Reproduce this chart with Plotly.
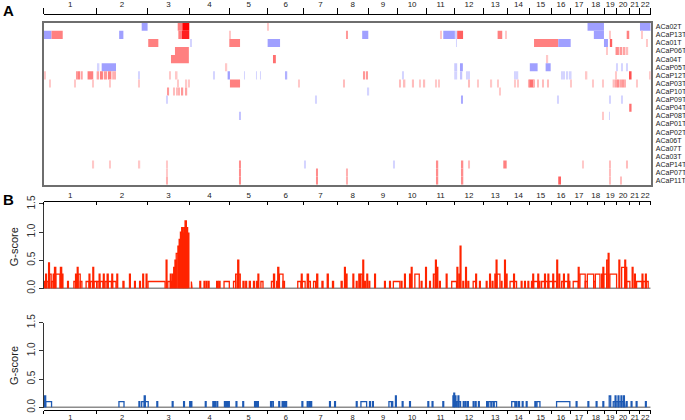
import plotly.graph_objects as go

# ---------------- data ----------------
chrom_names = [str(i) for i in range(1, 23)]
chrom_lengths = [249.25, 243.2, 198.0, 191.15, 180.9, 171.1, 159.1, 146.4, 141.2, 135.5,
                 135.0, 133.85, 115.2, 107.35, 102.5, 90.35, 81.2, 78.1, 59.1, 63.0, 48.1, 51.3]

samples = ["ACa02T", "ACaP13T", "ACa01T", "ACaP06T", "ACa04T", "ACaP05T", "ACaP12T",
           "ACaP03T", "ACaP10T", "ACaP09T", "ACaP04T", "ACaP08T", "ACaP01T", "ACaP02T",
           "ACa06T", "ACa07T", "ACa03T", "ACaP14T", "ACaP07T", "ACaP11T"]

# copy-number segments per sample: (start Mb, end Mb, log-ratio level) in genome-wide coordinates
ACa02T = [(464, 492, -0.6), (635, 657, 0.6), (657, 690, 1.0), (1062, 1067, 0.3),
          (2581, 2659, -0.6), (2830, 2881, -0.6)]
ACaP13T = [(0, 36, -0.6), (36, 89, 0.6), (357, 377, -0.6), (638, 655, 0.6), (655, 690, 0.9),
           (883, 886, 0.3), (1434, 1440, 0.5), (1511, 1540, -0.6), (1885, 1890, 0.3),
           (1896, 1951, -0.6), (1956, 1960, -0.3), (1962, 1990, 0.7), (2154, 2176, 0.6),
           (2193, 2198, 0.3), (2611, 2659, -0.6), (2683, 2688, 0.3), (2767, 2779, 0.6),
           (2838, 2842, 0.3)]
ACa01T = [(495, 543, 0.6), (696, 701, -0.3), (880, 931, 0.6), (1062, 1121, -0.6),
          (1957, 1961, -0.3), (2327, 2442, 0.6), (2442, 2501, -0.6), (2659, 2678, -0.6),
          (2687, 2698, 0.7), (2862, 2866, 0.3)]
ACaP06T = [(622, 688, 0.6), (2670, 2675, 0.3), (2714, 2730, 0.55), (2733, 2745, 0.5),
           (2748, 2760, 0.45), (2762, 2774, 0.35)]
ACa04T = [(603, 688, 0.6), (1092, 1101, 0.65), (2387, 2394, 0.3)]
ACaP05T = [(255, 263, -0.3), (274, 342, -0.6), (864, 870, 0.3), (1948, 1962, -0.35),
           (1980, 1989, -0.6), (2307, 2344, -0.6), (2382, 2406, -0.6), (2717, 2721, -0.3),
           (2741, 2745, -0.3), (2766, 2770, -0.3)]
ACaP12T = [(0, 6, 0.3), (152, 160, 0.5), (163, 170, 0.6), (174, 184, 0.45), (207, 234, 0.6),
           (250, 262, 0.45), (266, 280, 0.6), (284, 300, 0.5), (304, 320, 0.6), (324, 342, 0.4),
           (451, 455, -0.3), (595, 600, 0.3), (625, 634, 0.3), (804, 808, -0.3), (872, 883, -0.6),
           (950, 954, -0.3), (1007, 1011, -0.3), (1026, 1030, -0.3), (1149, 1155, -0.5),
           (1519, 1525, 0.5), (1530, 1537, 0.5), (1703, 1709, -0.3), (1948, 1962, -0.3),
           (1980, 1986, -0.4), (2004, 2010, -0.3), (2014, 2020, -0.3), (2232, 2238, -0.3),
           (2244, 2252, -0.3), (2455, 2462, -0.3), (2467, 2474, -0.3), (2480, 2487, -0.3),
           (2492, 2505, -0.3), (2573, 2580, 0.3), (2714, 2718, 0.3), (2778, 2790, 0.75),
           (2876, 2881, 0.3)]
ACaP03T = [(25, 33, 0.3), (144, 152, 0.3), (231, 237, 0.3), (309, 315, 0.3), (451, 456, 0.3),
           (633, 640, 0.3), (674, 680, 0.3), (685, 692, 0.3), (883, 931, 0.6), (1207, 1213, 0.3),
           (1420, 1426, 0.35), (1686, 1692, 0.35), (1708, 1716, 0.35), (1747, 1757, 0.35),
           (1781, 1787, 0.3), (1804, 1810, 0.35), (1860, 1866, 0.3), (1874, 1880, 0.3),
           (2017, 2023, 0.35), (2057, 2064, 0.3), (2121, 2128, 0.3), (2154, 2160, 0.3),
           (2232, 2238, 0.3), (2247, 2253, 0.3), (2299, 2305, 0.4), (2305, 2325, 0.65),
           (2325, 2331, 0.4), (2344, 2350, 0.35), (2366, 2373, 0.35), (2390, 2397, 0.35),
           (2501, 2507, 0.3), (2605, 2611, 0.3), (2651, 2657, 0.3), (2700, 2711, 0.35),
           (2714, 2722, 0.45), (2725, 2733, 0.55), (2736, 2745, 0.45), (2748, 2755, 0.5),
           (2757, 2762, 0.4), (2814, 2820, 0.3)]
ACaP10T = [(587, 594, 0.5), (614, 620, 0.35), (628, 633, 0.35), (638, 644, 0.4), (654, 661, 0.5),
           (673, 680, 0.45), (1538, 1544, -0.3), (2163, 2168, 0.3)]
ACaP09T = [(582, 588, -0.3), (1290, 1296, -0.3), (1983, 1989, -0.55), (2439, 2445, -0.3),
           (2683, 2689, -0.3), (2743, 2749, -0.3)]
ACaP04T = [(2779, 2790, 0.65)]
ACaP08T = [(926, 934, -0.4), (2651, 2657, 0.3), (2683, 2687, -0.3)]
ACaP01T = []
ACaP02T = []
ACa06T = []
ACa07T = []
ACa03T = []
ACaP14T = [(231, 238, 0.3), (309, 316, 0.3), (451, 457, 0.3), (582, 588, 0.3), (926, 934, 0.55),
           (1235, 1240, -0.3), (1659, 1665, -0.3), (1864, 1872, 0.55), (1983, 1991, 0.55),
           (2017, 2023, 0.35), (2181, 2197, 0.6), (2556, 2563, 0.3), (2683, 2688, 0.35),
           (2767, 2773, 0.35)]
ACaP07T = [(582, 588, 0.3), (926, 934, 0.55), (1292, 1300, 0.55), (1434, 1440, 0.4),
           (1864, 1872, 0.55), (1983, 1991, 0.55), (2683, 2688, 0.35)]
ACaP11T = [(582, 588, 0.4), (926, 934, 0.55), (1292, 1300, 0.55), (1434, 1440, 0.4),
           (1864, 1872, 0.55), (1983, 1991, 0.55), (2442, 2455, 0.7), (2683, 2688, 0.35),
           (2738, 2744, 0.35)]

sample_segments = [ACa02T, ACaP13T, ACa01T, ACaP06T, ACa04T, ACaP05T, ACaP12T, ACaP03T,
                   ACaP10T, ACaP09T, ACaP04T, ACaP08T, ACaP01T, ACaP02T, ACa06T, ACa07T,
                   ACa03T, ACaP14T, ACaP07T, ACaP11T]

# G-score for gains: (start Mb, end Mb, G-score)
gain_gscore = [
    (2, 8, 0.12), (8, 12, 0.25), (12, 20, 0.12), (22, 26, 0.45), (26, 34, 0.25), (36, 44, 0.12),
    (44, 50, 0.25), (50, 56, 0.37), (56, 76, 0.25), (78, 84, 0.37), (84, 90, 0.25), (112, 116, 0.12),
    (142, 150, 0.12), (150, 156, 0.25), (158, 162, 0.37), (162, 172, 0.25), (172, 180, 0.12),
    (200, 214, 0.12), (214, 218, 0.25), (220, 230, 0.12), (232, 236, 0.37), (238, 250, 0.12),
    (252, 262, 0.12), (262, 266, 0.25), (266, 280, 0.12), (282, 286, 0.25), (290, 300, 0.12),
    (300, 305, 0.25), (305, 320, 0.12), (322, 326, 0.25), (326, 342, 0.12), (346, 350, 0.25),
    (375, 380, 0.12), (406, 410, 0.25), (430, 434, 0.12), (454, 458, 0.12), (469, 473, 0.25),
    (485, 489, 0.25),
    (494, 575, 0.12), (580, 584, 0.5), (588, 600, 0.12), (600, 604, 0.25), (604, 610, 0.12),
    (610, 616, 0.25), (616, 622, 0.37), (622, 628, 0.5), (628, 636, 0.62), (636, 642, 0.75),
    (642, 648, 0.87), (648, 654, 1.0), (654, 660, 1.08), (660, 664, 0.98), (664, 670, 1.08),
    (670, 676, 1.2), (676, 682, 1.08), (682, 688, 0.98),
    (700, 703, 0.12), (740, 744, 0.12), (760, 764, 0.12), (770, 774, 0.12), (780, 784, 0.12),
    (820, 826, 0.12), (830, 836, 0.12), (855, 880, 0.12),
    (900, 910, 0.12), (910, 918, 0.25), (920, 925, 0.5), (925, 932, 0.25), (945, 950, 0.12),
    (958, 962, 0.12), (975, 980, 0.12), (995, 1000, 0.12), (1010, 1014, 0.12), (1016, 1020, 0.25),
    (1030, 1040, 0.12),
    (1080, 1090, 0.12), (1090, 1095, 0.25), (1105, 1110, 0.12), (1110, 1115, 0.37),
    (1118, 1135, 0.25), (1135, 1142, 0.12),
    (1205, 1220, 0.12), (1222, 1226, 0.25), (1226, 1240, 0.12), (1250, 1256, 0.25),
    (1256, 1265, 0.12), (1280, 1290, 0.12), (1295, 1300, 0.25), (1320, 1325, 0.12),
    (1345, 1350, 0.25), (1370, 1375, 0.12),
    (1411, 1416, 0.12), (1427, 1431, 0.37), (1435, 1439, 0.25), (1467, 1471, 0.25),
    (1483, 1487, 0.12), (1495, 1499, 0.25), (1503, 1511, 0.25), (1514, 1518, 0.5),
    (1522, 1526, 0.12), (1533, 1537, 0.25), (1543, 1547, 0.12), (1570, 1574, 0.25),
    (1617, 1621, 0.12), (1641, 1645, 0.12), (1659, 1690, 0.12), (1696, 1700, 0.12),
    (1712, 1716, 0.25), (1736, 1740, 0.25), (1744, 1748, 0.37), (1761, 1782, 0.25),
    (1791, 1795, 0.12), (1812, 1816, 0.37), (1831, 1835, 0.12), (1849, 1857, 0.25),
    (1859, 1863, 0.5), (1866, 1870, 0.37), (1878, 1882, 0.12), (1910, 1914, 0.25),
    (1936, 1959, 0.12), (1961, 1965, 0.37), (1970, 1974, 0.25), (1976, 1980, 0.75),
    (1989, 1993, 0.12), (2002, 2006, 0.37), (2013, 2017, 0.12), (2038, 2050, 0.12),
    (2050, 2054, 0.25), (2068, 2072, 0.12), (2100, 2104, 0.12), (2116, 2120, 0.25),
    (2128, 2132, 0.12), (2141, 2147, 0.25), (2147, 2151, 0.5), (2151, 2165, 0.25),
    (2171, 2175, 0.12), (2187, 2191, 0.5), (2195, 2199, 0.25), (2213, 2230, 0.12),
    (2230, 2234, 0.25), (2234, 2244, 0.12), (2266, 2270, 0.12), (2282, 2286, 0.12),
    (2298, 2302, 0.12), (2315, 2321, 0.12), (2321, 2325, 0.25), (2325, 2345, 0.12),
    (2345, 2349, 0.25), (2349, 2355, 0.12), (2363, 2377, 0.12), (2377, 2381, 0.25),
    (2381, 2393, 0.12), (2393, 2397, 0.25), (2397, 2416, 0.12), (2416, 2420, 0.25),
    (2420, 2434, 0.12), (2435, 2439, 0.5), (2445, 2449, 0.25), (2458, 2467, 0.12),
    (2467, 2471, 0.25), (2471, 2488, 0.12), (2488, 2492, 0.25), (2492, 2497, 0.12),
    (2513, 2537, 0.12), (2537, 2541, 0.37), (2545, 2570, 0.25), (2570, 2580, 0.12),
    (2580, 2610, 0.25), (2610, 2618, 0.12), (2618, 2640, 0.25), (2648, 2654, 0.25),
    (2654, 2658, 0.37), (2658, 2672, 0.25), (2672, 2679, 0.5), (2679, 2683, 0.62),
    (2687, 2719, 0.25), (2730, 2734, 0.5), (2743, 2758, 0.37), (2758, 2762, 0.5),
    (2762, 2767, 0.37), (2767, 2782, 0.12), (2793, 2797, 0.37), (2804, 2808, 0.25),
    (2814, 2840, 0.12), (2840, 2844, 0.25), (2844, 2856, 0.12), (2856, 2860, 0.25),
    (2860, 2869, 0.12)]

# G-score for losses: (start Mb, end Mb, G-score)
loss_gscore = [
    (0, 2, 0.1), (2, 8, 0.2), (8, 36, 0.1), (356, 380, 0.1), (451, 455, 0.1), (464, 476, 0.1),
    (476, 481, 0.2), (481, 495, 0.1), (536, 540, 0.1), (609, 613, 0.1), (663, 667, 0.1),
    (692, 696, 0.1), (698, 702, 0.1), (766, 770, 0.1), (802, 806, 0.1), (810, 814, 0.1),
    (821, 825, 0.1), (857, 861, 0.1), (864, 868, 0.1), (870, 874, 0.1), (876, 880, 0.1),
    (912, 916, 0.1), (944, 948, 0.1), (1000, 1004, 0.1), (1006, 1010, 0.1), (1014, 1018, 0.1),
    (1076, 1080, 0.1), (1082, 1089, 0.1), (1115, 1119, 0.1), (1131, 1135, 0.1), (1138, 1142, 0.1),
    (1146, 1152, 0.1), (1225, 1229, 0.1), (1250, 1254, 0.1), (1258, 1262, 0.1), (1266, 1271, 0.1),
    (1356, 1360, 0.1), (1380, 1384, 0.1), (1483, 1487, 0.1), (1505, 1532, 0.1), (1546, 1550, 0.1),
    (1560, 1564, 0.1), (1638, 1650, 0.1), (1652, 1656, 0.1), (1669, 1673, 0.2), (1701, 1705, 0.1),
    (1736, 1740, 0.1), (1823, 1827, 0.1), (1843, 1847, 0.1), (1894, 1898, 0.1), (1942, 1946, 0.2),
    (1946, 1950, 0.25), (1950, 1956, 0.2), (1959, 1966, 0.1), (1966, 1970, 0.2), (1970, 1978, 0.1),
    (1991, 1995, 0.1), (2000, 2004, 0.1), (2011, 2015, 0.1), (2038, 2042, 0.1), (2048, 2052, 0.1),
    (2063, 2067, 0.1), (2102, 2108, 0.1), (2112, 2122, 0.1), (2126, 2134, 0.1), (2138, 2149, 0.1),
    (2221, 2236, 0.1), (2240, 2246, 0.1), (2254, 2258, 0.1), (2271, 2275, 0.1), (2290, 2294, 0.1),
    (2331, 2337, 0.1), (2341, 2355, 0.1), (2434, 2497, 0.1), (2527, 2531, 0.1), (2583, 2587, 0.1),
    (2622, 2626, 0.1), (2654, 2658, 0.1), (2684, 2691, 0.2), (2703, 2712, 0.1), (2712, 2716, 0.2),
    (2716, 2726, 0.1), (2726, 2730, 0.2), (2730, 2740, 0.1), (2740, 2744, 0.2), (2744, 2752, 0.1),
    (2752, 2756, 0.2), (2756, 2759, 0.1), (2765, 2769, 0.1), (2788, 2792, 0.1), (2812, 2816, 0.1),
    (2856, 2860, 0.1)]

gscore_ticks = [0, 0.5, 1.0, 1.5]
gscore_ticktext = ["0.0", "0.5", "1.0", "1.5"]

# ---------------- derived ----------------
boundaries = [0.0]
for L in chrom_lengths:
    boundaries.append(boundaries[-1] + L)
total = boundaries[-1]
centers = [(boundaries[i] + boundaries[i + 1]) / 2 for i in range(len(chrom_lengths))]

FONT = "Liberation Sans, Arial, sans-serif"
XDOM = [0.0642, 0.9499]

fig = go.Figure()

# heatmap as horizontal bars
hb_y, hb_x, hb_base, hb_c = [], [], [], []
for name, segs in zip(samples, sample_segments):
    for s, e, v in segs:
        hb_y.append(name)
        hb_x.append(e - s)
        hb_base.append(s)
        hb_c.append(v)

cscale = [[0.0, "rgb(110,110,255)"], [0.2, "rgb(160,160,255)"], [0.35, "rgb(212,212,255)"],
          [0.5, "rgb(255,255,255)"], [0.65, "rgb(255,200,200)"], [0.8, "rgb(255,128,128)"],
          [1.0, "rgb(255,0,0)"]]

fig.add_trace(go.Bar(
    y=hb_y, x=hb_x, base=hb_base, orientation="h", width=1.0,
    marker=dict(color=hb_c, colorscale=cscale, cmin=-1, cmax=1, line=dict(width=0)),
    xaxis="x", yaxis="y", showlegend=False, hoverinfo="skip"))

# invisible helper traces so the overlay axes render
for xa, ya in [("x2", "y"), ("x4", "y2"), ("x6", "y3")]:
    fig.add_trace(go.Scatter(x=[0, total], y=[None, None], mode="lines", xaxis=xa, yaxis=ya,
                             showlegend=False, hoverinfo="skip"))


def step_xy(segs):
    xs, ys = [], []
    for s, e, v in segs:
        xs += [s, s, e, e, None]
        ys += [0, v, v, 0, None]
    return xs, ys


for segs, color, xa, ya in [(gain_gscore, "rgb(255,36,0)", "x3", "y2"),
                            (loss_gscore, "rgb(30,90,180)", "x5", "y3")]:
    fig.add_trace(go.Scatter(x=[0, total], y=[0, 0], mode="lines",
                             line=dict(color="#8c8c8c", width=1.6), xaxis=xa, yaxis=ya,
                             showlegend=False, hoverinfo="skip"))
    gx, gy = step_xy(segs)
    fig.add_trace(go.Scatter(x=gx, y=gy, mode="lines", line=dict(color=color, width=1.3),
                             xaxis=xa, yaxis=ya, showlegend=False, hoverinfo="skip"))

chrom_axis_common = dict(
    range=[0, total], showgrid=False, zeroline=False, showline=True, linecolor="black",
    linewidth=1, tickmode="array", tickvals=centers, ticktext=chrom_names, tickangle=0,
    automargin=False, tickfont=dict(size=8, color="#222", family=FONT))

gs_axis_common = dict(
    range=[-0.02, 1.5], tickmode="array", tickvals=gscore_ticks, ticktext=gscore_ticktext,
    tickangle=-90, ticks="outside", ticklen=4, tickcolor="#333", showline=True,
    linecolor="#333", linewidth=1, showgrid=False, zeroline=False, automargin=False,
    tickfont=dict(size=10, color="#333", family=FONT),
    title=dict(text="G-score", font=dict(size=11, color="#222", family=FONT), standoff=5))

fig.update_layout(
    width=685, height=420, margin=dict(l=0, r=0, t=0, b=0, autoexpand=False),
    paper_bgcolor="white", plot_bgcolor="white", font=dict(family=FONT),
    barmode="overlay", showlegend=False,
    xaxis=dict(domain=XDOM, anchor="y", range=[0, total], showline=True, mirror=True,
               linecolor="#6e6e6e", linewidth=1.5, showgrid=False, zeroline=False,
               ticks="", showticklabels=False, automargin=False),
    yaxis=dict(domain=[0.5602, 0.946], anchor="x", type="category", categoryorder="array",
               categoryarray=samples, range=[19.5, -0.5], side="right", showline=True,
               mirror=True, linecolor="#6e6e6e", linewidth=1.5, showgrid=False, zeroline=False,
               tickmode="array", tickvals=samples, ticktext=samples,
               ticks="outside", ticklen=2, tickcolor="rgba(0,0,0,0)", automargin=False,
               tickfont=dict(size=7, color="#222", family=FONT)),
    xaxis2=dict(overlaying="x", anchor="free", position=0.9655, side="top",
                ticks="outside", ticklen=4, tickcolor="rgba(0,0,0,0)",
                minor=dict(tickmode="array", tickvals=boundaries, ticks="outside", ticklen=6,
                           tickcolor="black", tickwidth=1),
                **chrom_axis_common),
    xaxis3=dict(domain=XDOM, anchor="y2", range=[0, total], showline=False, showgrid=False,
                zeroline=False, ticks="", showticklabels=False, automargin=False),
    yaxis2=dict(domain=[0.3110, 0.5143], anchor="x3", **gs_axis_common),
    xaxis4=dict(overlaying="x3", anchor="free", position=0.5214, side="top", ticks="",
                minor=dict(tickmode="array", tickvals=boundaries, ticks="inside", ticklen=3,
                           tickcolor="black", tickwidth=1),
                **chrom_axis_common),
    xaxis5=dict(domain=XDOM, anchor="y3", range=[0, total], showline=False, showgrid=False,
                zeroline=False, ticks="", showticklabels=False, automargin=False),
    yaxis3=dict(domain=[0.0276, 0.2317], anchor="x5", **gs_axis_common),
    xaxis6=dict(overlaying="x5", anchor="free", position=0.0250, side="bottom", ticks="",
                minor=dict(tickmode="array", tickvals=boundaries, ticks="outside", ticklen=3,
                           tickcolor="black", tickwidth=1),
                **chrom_axis_common),
    annotations=[
        dict(text="<b>A</b>", x=0.0117, y=0.976, xref="paper", yref="paper", showarrow=False,
             font=dict(size=15, color="black", family=FONT), xanchor="center", yanchor="middle"),
        dict(text="<b>B</b>", x=0.0117, y=0.524, xref="paper", yref="paper", showarrow=False,
             font=dict(size=15, color="black", family=FONT), xanchor="center", yanchor="middle"),
    ],
)
fig.update_xaxes(selector=dict(anchor="free"), tickfont_size=8)
fig.layout.xaxis6.tickfont.size = 7.5

fig.write_html("out.html", config={"displayModeBar": False},
               post_script="document.body.style.margin='0';document.body.style.overflow='hidden';")
